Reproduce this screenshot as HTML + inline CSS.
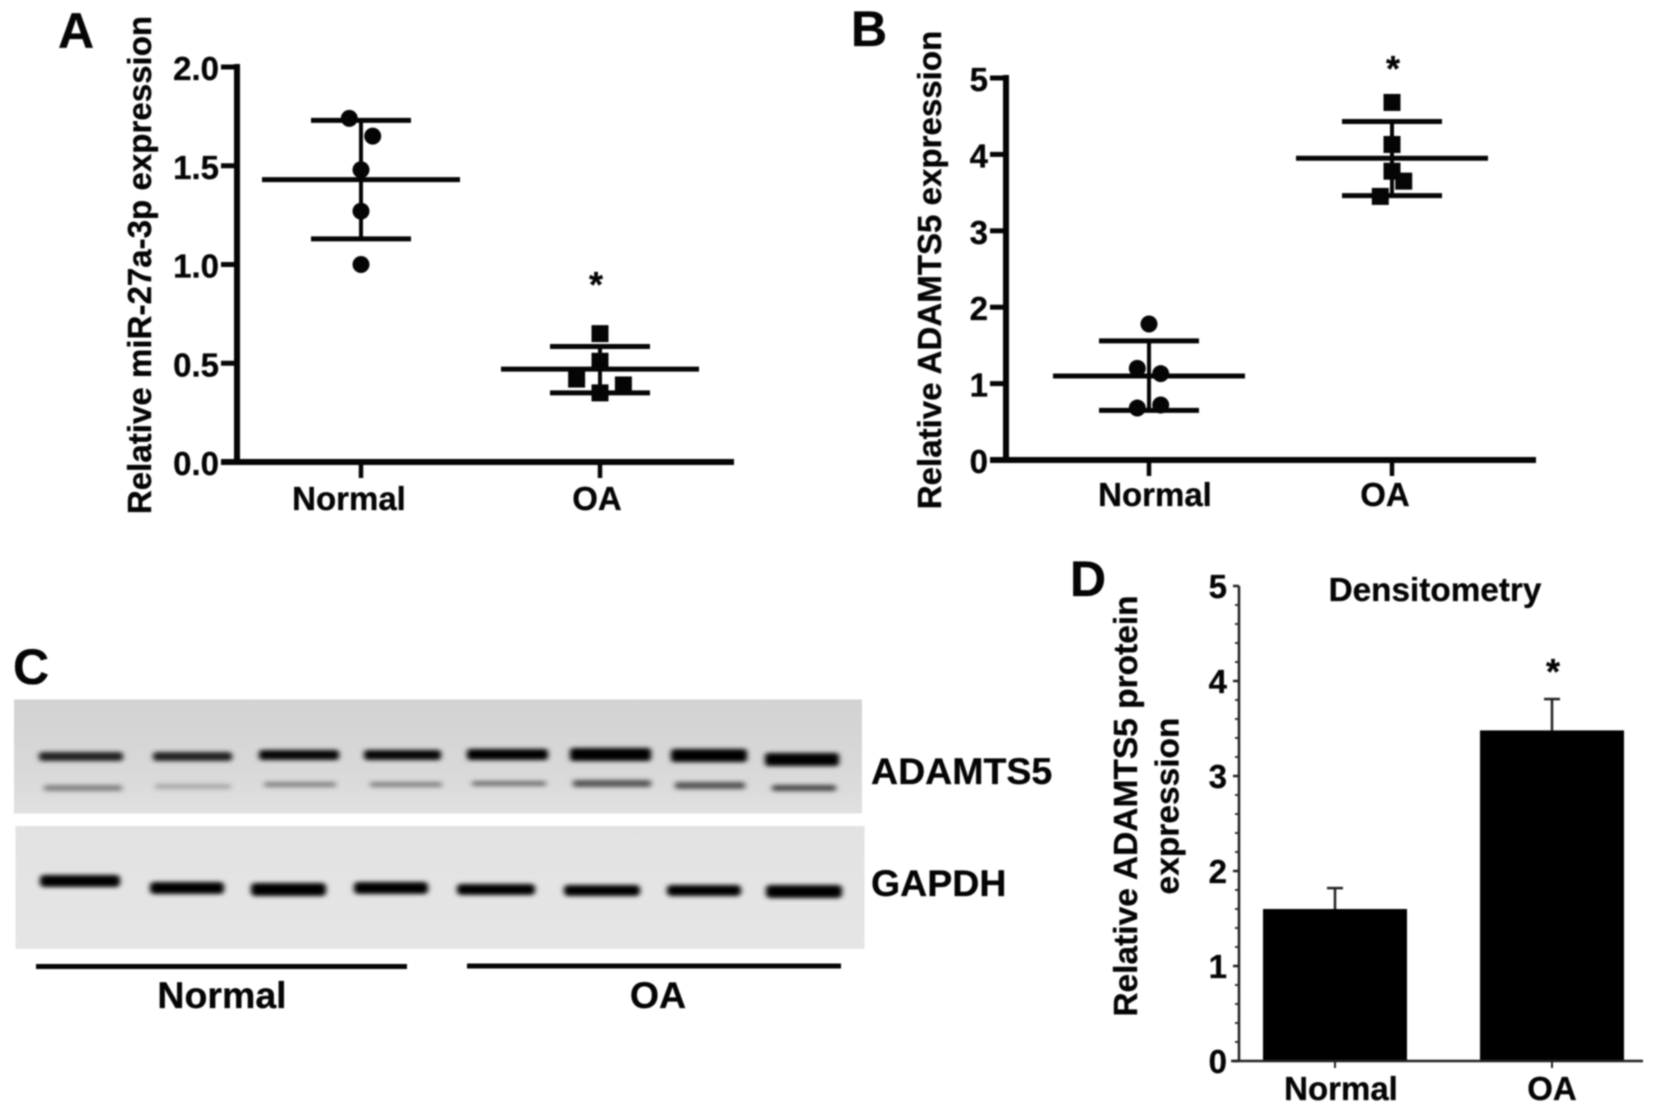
<!DOCTYPE html>
<html lang="en">
<head>
<meta charset="utf-8">
<title>miR-27a-3p and ADAMTS5 expression</title>
<style>
html,body{margin:0;padding:0;background:#fff;width:1654px;height:1111px;overflow:hidden}
svg{display:block;filter:blur(0.7px)}
text{font-family:"Liberation Sans",sans-serif;font-weight:bold;fill:#050505;stroke:#050505;stroke-width:0.3px}
</style>
</head>
<body>
<svg id="figure" xmlns="http://www.w3.org/2000/svg" width="1654" height="1111" viewBox="0 0 1654 1111">
<defs>
<filter id="bandBlur" x="-20%" y="-100%" width="140%" height="300%"><feGaussianBlur stdDeviation="2.6 2"/></filter>
<filter id="softBlur" x="-20%" y="-100%" width="140%" height="300%"><feGaussianBlur stdDeviation="3 2.2"/></filter>
<linearGradient id="blotTop" x1="0" y1="0" x2="0" y2="1"><stop offset="0" stop-color="#d2d2d2"/><stop offset="0.6" stop-color="#d8d8d8"/><stop offset="1" stop-color="#e0e0e0"/></linearGradient>
<linearGradient id="blotBottom" x1="0" y1="0" x2="0" y2="1"><stop offset="0" stop-color="#e2e2e2"/><stop offset="1" stop-color="#e5e5e5"/></linearGradient>
</defs>

<text x="58" y="48" font-size="50">A</text>
<text x="851" y="46" font-size="50">B</text>
<text x="13" y="684" font-size="50">C</text>
<text x="1070" y="596" font-size="50">D</text>

<g>
<rect x="14" y="699.5" width="848" height="114" fill="url(#blotTop)"/>
<rect x="15.5" y="826" width="849" height="123" fill="url(#blotBottom)"/>
<g fill="#000" filter="url(#bandBlur)">
<rect x="39" y="752" width="84" height="9" rx="3" opacity="0.85"/>
<rect x="153" y="752" width="79" height="9" rx="3" opacity="0.85"/>
<rect x="259" y="750" width="80" height="10" rx="3" opacity="0.97"/>
<rect x="364" y="750" width="77" height="10" rx="3" opacity="0.97"/>
<rect x="467" y="749" width="81" height="11" rx="3"/>
<rect x="570" y="748" width="81" height="13" rx="3"/>
<rect x="671" y="749" width="76" height="13" rx="3"/>
<rect x="765" y="753" width="74" height="13" rx="3"/>
</g>
<g fill="#444" filter="url(#softBlur)">
<rect x="44" y="785" width="78" height="6" rx="2" opacity="0.6"/>
<rect x="155" y="784" width="76" height="5" rx="2" opacity="0.35"/>
<rect x="264" y="782" width="72" height="5" rx="2" opacity="0.6"/>
<rect x="370" y="782" width="72" height="5" rx="2" opacity="0.6"/>
<rect x="472" y="781" width="74" height="5" rx="2" opacity="0.7"/>
<rect x="573" y="780" width="78" height="7" rx="2" opacity="0.9"/>
<rect x="675" y="782" width="70" height="7" rx="2" opacity="0.9"/>
<rect x="772" y="785" width="64" height="6" rx="2" opacity="1"/>
</g>
<g fill="#000" filter="url(#bandBlur)">
<rect x="40" y="875" width="80" height="12" rx="4"/>
<rect x="150" y="882" width="74" height="12" rx="4"/>
<rect x="251" y="883" width="75" height="13" rx="4"/>
<rect x="354" y="882" width="74" height="12" rx="4"/>
<rect x="457" y="884" width="78" height="11" rx="4"/>
<rect x="564" y="885" width="76" height="11" rx="4"/>
<rect x="667" y="885" width="74" height="11" rx="4"/>
<rect x="766" y="885" width="76" height="13" rx="4"/>
</g>
<text x="871" y="784" font-size="37.5">ADAMTS5</text>
<text x="871" y="896" font-size="37.5">GAPDH</text>
<rect x="36" y="964" width="371" height="5" fill="#050505"/>
<rect x="467" y="963.5" width="374" height="5" fill="#050505"/>
<text x="222" y="1008" font-size="37.5" text-anchor="middle">Normal</text>
<text x="658" y="1008" font-size="37.5" text-anchor="middle">OA</text>
</g>
</svg>

<script>
// Panel A
const aCategories = ['Normal', 'OA'];
const aTicks = [0, 0.5, 1, 1.5, 2];
const aTickLabels = ['0.0', '0.5', '1.0', '1.5', '2.0'];
const aNormalValues = [1.74, 1.65, 1.48, 1.27, 1.00];
const aNormalSlots = [-1, 1, 0, 0, 0];
const aOaValues = [0.65, 0.51, 0.42, 0.39, 0.35];
const aOaSlots = [0, 0, -2, 2, 0];
const aMeans = [1.43, 0.47];
const aUpper = [1.73, 0.585];
const aLower = [1.13, 0.35];

// Panel B
const bCategories = ['Normal', 'OA'];
const bTicks = [0, 1, 2, 3, 4, 5];
const bTickLabels = ['0', '1', '2', '3', '4', '5'];
const bNormalValues = [1.78, 1.20, 1.13, 0.72, 0.68];
const bNormalSlots = [0, -1, 1, 1, -1];
const bOaValues = [4.68, 4.13, 3.78, 3.65, 3.45];
const bOaSlots = [0, 0, 0, 1, -1];
const bMeans = [1.10, 3.95];
const bUpper = [1.56, 4.43];
const bLower = [0.65, 3.46];

// Panel D
const dCategories = ['Normal', 'OA'];
const dTicks = [0, 1, 2, 3, 4, 5];
const dTickLabels = ['0', '1', '2', '3', '4', '5'];
const dMeans = [1.60, 3.48];
const dUpper = [1.82, 3.81];

const svg = document.getElementById('figure');
const NS = 'http://www.w3.org/2000/svg';

function make(tag, attrs, parent, text) {
  const node = document.createElementNS(NS, tag);
  for (const key in attrs) node.setAttribute(key, attrs[key]);
  if (text !== undefined) node.textContent = text;
  parent.appendChild(node);
  return node;
}
function linear(d0, d1, r0, r1) {
  return v => r0 + (v - d0) / (d1 - d0) * (r1 - r0);
}

function drawScatterPanel(cfg) {
  const root = make('g', {}, svg);
  
  
  const y = linear(cfg.domain[0], cfg.domain[1], cfg.y0, cfg.y1);
  const x = i => cfg.x0 + i * cfg.step;

  const yAxis = make('line', {x1: cfg.axisX, x2: cfg.axisX, y1: y(cfg.domain[1]) - 3, y2: y(cfg.domain[0]) + 3, stroke: '#050505', 'stroke-width': 6}, root);
  
  
  const xAxis = make('line', {x1: cfg.axisX - 16, x2: cfg.axisEnd, y1: y(cfg.domain[0]), y2: y(cfg.domain[0]), stroke: '#050505', 'stroke-width': 6}, root);
  
  

  cfg.ticks.forEach((t, i) => {
    const tick = make('line', {x1: cfg.axisX - 16, x2: cfg.axisX, y1: y(t), y2: y(t), stroke: '#050505', 'stroke-width': 5}, root);
    
    
    const label = make('text', {x: cfg.axisX - 18, y: y(t) + 13, 'font-size': 33, 'text-anchor': 'end'}, root, cfg.tickLabels[i]);
    
    
  });

  const title = make('text', {transform: `translate(${cfg.titleX} ${cfg.titleY}) rotate(-90)`, 'font-size': 33.1, 'text-anchor': 'middle'}, root, cfg.title);
  
  

  cfg.categories.forEach((c, i) => {
    const tick = make('line', {x1: x(i), x2: x(i), y1: y(cfg.domain[0]), y2: y(cfg.domain[0]) + 16, stroke: '#050505', 'stroke-width': 4.5}, root);
    
    
    const label = make('text', {x: x(i) + cfg.labelShift[i], y: cfg.labelY, 'font-size': 33, 'text-anchor': 'middle'}, root, c);
    
    

    const errBar = make('line', {x1: x(i), x2: x(i), y1: y(cfg.upper[i]), y2: y(cfg.lower[i]), stroke: '#050505', 'stroke-width': 4}, root);
    
    
    const capTop = make('line', {x1: x(i) - 50, x2: x(i) + 50, y1: y(cfg.upper[i]), y2: y(cfg.upper[i]), stroke: '#050505', 'stroke-width': 5}, root);
    
    
    const capBottom = make('line', {x1: x(i) - 50, x2: x(i) + 50, y1: y(cfg.lower[i]), y2: y(cfg.lower[i]), stroke: '#050505', 'stroke-width': 5}, root);
    
    
    const mean = make('line', {x1: x(i) - cfg.meanHalf, x2: x(i) + cfg.meanHalf, y1: y(cfg.means[i]), y2: y(cfg.means[i]), stroke: '#050505', 'stroke-width': 5}, root);
    
    
  });

  cfg.normalValues.forEach((v, i) => {
    const dot = make('circle', {cx: x(0) + cfg.normalSlots[i] * 11.7, cy: y(v), r: 8.5, fill: '#050505'}, root);
    
    
  });
  cfg.oaValues.forEach((v, i) => {
    const sq = make('rect', {x: x(1) + cfg.oaSlots[i] * 11.7 - 8.5, y: y(v) - 8.5, width: 17, height: 17, fill: '#050505'}, root);
    
    
  });

  const star = make('text', {x: cfg.starX, y: cfg.starY, 'font-size': 36, 'text-anchor': 'middle'}, root, '*');
  
  
}

drawScatterPanel({
  name: 'panel-a-scatter', domain: [0, 2], y0: 462, y1: 67, axisX: 237, axisEnd: 734, x0: 361, step: 239,
  ticks: aTicks, tickLabels: aTickLabels, categories: aCategories, labelShift: [-12, -3], labelY: 510,
  normalValues: aNormalValues, normalSlots: aNormalSlots, oaValues: aOaValues, oaSlots: aOaSlots,
  means: aMeans, upper: aUpper, lower: aLower, meanHalf: 99,
  title: 'Relative miR-27a-3p expression', titleX: 151, titleY: 265, starX: 596, starY: 297
});
drawScatterPanel({
  name: 'panel-b-scatter', domain: [0, 5], y0: 460, y1: 78, axisX: 1006, axisEnd: 1536, x0: 1149, step: 243,
  ticks: bTicks, tickLabels: bTickLabels, categories: bCategories, labelShift: [6, -7], labelY: 506,
  normalValues: bNormalValues, normalSlots: bNormalSlots, oaValues: bOaValues, oaSlots: bOaSlots,
  means: bMeans, upper: bUpper, lower: bLower, meanHalf: 96,
  title: 'Relative ADAMTS5 expression', titleX: 941, titleY: 270, starX: 1393, starY: 81
});

function drawBarPanel() {
  const root = make('g', {}, svg);
  
  
  const y = linear(0, 5, 1061, 586);
  const axisX = 1239;
  const centers = i => 1335 + i * 217;
  const barHalf = 72;

  dCategories.forEach((c, i) => {
    const top = y(dMeans[i]);
    const bar = make('rect', {x: centers(i) - barHalf, y: top, width: barHalf * 2, height: y(0) - top, fill: '#000'}, root);
    
    
    const err = make('line', {x1: centers(i), x2: centers(i), y1: y(dUpper[i]), y2: top, stroke: '#222', 'stroke-width': 2.5}, root);
    
    
    const cap = make('line', {x1: centers(i) - 8, x2: centers(i) + 8, y1: y(dUpper[i]), y2: y(dUpper[i]), stroke: '#222', 'stroke-width': 2.5}, root);
    
    
    const tick = make('line', {x1: centers(i), x2: centers(i), y1: y(0), y2: y(0) + 7, stroke: '#222', 'stroke-width': 2}, root);
    
    
    const label = make('text', {x: centers(i) + (i === 0 ? 6 : 0), y: 1100, 'font-size': 33, 'text-anchor': 'middle'}, root, c);
    
    
  });

  const yAxis = make('line', {x1: axisX, x2: axisX, y1: y(5), y2: y(0), stroke: '#222', 'stroke-width': 2.5}, root);
  
  
  const xAxis = make('line', {x1: axisX - 8, x2: 1643, y1: y(0), y2: y(0), stroke: '#222', 'stroke-width': 2.5}, root);
  
  

  dTicks.forEach((t, i) => {
    const tick = make('line', {x1: axisX - 6, x2: axisX, y1: y(t), y2: y(t), stroke: '#222', 'stroke-width': 2.5}, root);
    
    
    const label = make('text', {x: axisX - 12, y: y(t) + 12, 'font-size': 33, 'text-anchor': 'end'}, root, dTickLabels[i]);
    
    
    if (i < dTicks.length - 1) {
      for (let m = 1; m < 5; m++) {
        const minor = make('line', {x1: axisX - 4, x2: axisX, y1: y(t + m / 5), y2: y(t + m / 5), stroke: '#333', 'stroke-width': 2}, root);
        
        
      }
    }
  });

  const title = make('text', {x: 1435, y: 601, 'font-size': 33.3, 'text-anchor': 'middle'}, root, 'Densitometry');
  
  
  const yTitle1 = make('text', {transform: 'translate(1137 806) rotate(-90)', 'font-size': 33.5, 'text-anchor': 'middle'}, root, 'Relative ADAMTS5 protein');
  
  
  const yTitle2 = make('text', {transform: 'translate(1178.5 806) rotate(-90)', 'font-size': 33.5, 'text-anchor': 'middle'}, root, 'expression');
  
  
  const star = make('text', {x: 1553, y: 684, 'font-size': 36, 'text-anchor': 'middle'}, root, '*');
  
  
}
drawBarPanel();
</script>
</body>
</html>
